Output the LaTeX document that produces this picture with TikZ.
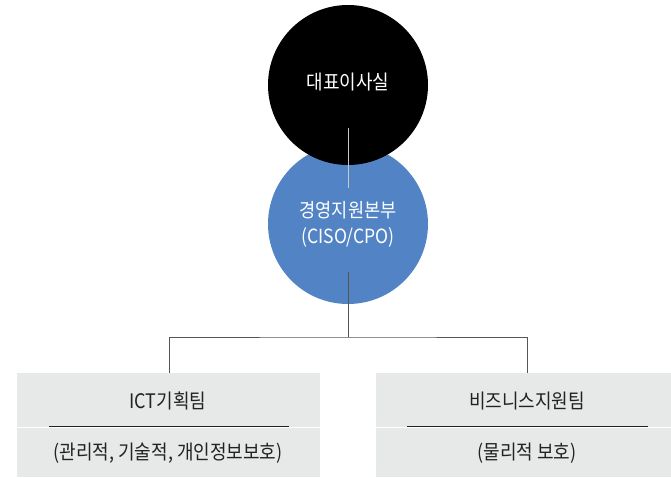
\documentclass[tikz,border=0pt]{standalone}
\usepackage{fontspec}
\setmainfont{Noto Sans CJK KR}[FakeStretch=0.9]
\usetikzlibrary{calc}
\definecolor{ceoblack}{HTML}{000000}
\definecolor{cisoblue}{HTML}{5284C5}
\definecolor{boxgray}{HTML}{E6E9E8}
\definecolor{linkgray}{HTML}{555555}
\definecolor{innergray}{HTML}{C8C8C8}
\definecolor{txtdark}{HTML}{222222}
\tikzset{
  circ/.style={circle, minimum size=160pt, inner sep=0pt, text=white, align=center, font=\fontsize{19.5}{26}\selectfont},
  teambox/.style={rectangle, fill=boxgray, inner sep=0pt, anchor=north west},
  teamtitle/.style={text=txtdark, font=\fontsize{20}{22}\selectfont, inner sep=0pt},
  teamsub/.style={text=txtdark, font=\fontsize{20}{22}\selectfont, inner sep=0pt},
  link/.style={draw=linkgray, line width=1pt},
  sepline/.style={draw=txtdark, line width=0.9pt},
}
\begin{document}
\begin{tikzpicture}[x=1pt,y=-1pt]
\useasboundingbox (0,0) rectangle (671,477);
% circles
\node[circ, fill=cisoblue] (ciso) at (348,224) {경영지원본부\\(CISO/CPO)};
\node[circ, fill=ceoblack] (ceo) at (348,85) {};
\node[text=white, font=\fontsize{20}{22}\selectfont, inner sep=0pt] (ceotext) at (348,82) {대표이사실};
\coordinate (ceoin) at ($(ceo.center)+(0,43)$);
\coordinate (cisoin) at ($(ciso.center)+(0,-36)$);
\draw[draw=innergray, line width=1pt] (ceoin) -- (cisoin);
% boxes
\node[teambox, minimum width=303pt, minimum height=104pt] (ict) at (17,373) {};
\node[teambox, minimum width=295pt, minimum height=104pt] (biz) at (376,373) {};
\draw[white, line width=1pt] (ict.west |- 0,427.5) -- (ict.east |- 0,427.5);
\draw[white, line width=1pt] (biz.west |- 0,427.5) -- (biz.east |- 0,427.5);
\draw[sepline] (49,426) -- (289,426);
\draw[sepline] (407,426) -- (648,426);
\node[teamtitle] (ictt) at (168,401) {ICT기획팀};
\node[teamsub] (icts) at (168,453) {(관리적, 기술적, 개인정보보호)};
\node[teamtitle] (bizt) at (527,401) {비즈니스지원팀};
\node[teamsub] (bizs) at (527,453) {(물리적 보호)};
% connectors
\coordinate (cisoout) at ($(ciso.center)+(0,48)$);
\coordinate (junc) at (348,337);
\coordinate (ictin) at (169,373);
\coordinate (bizin) at (527,373);
\draw[link] (cisoout) -- (junc);
\draw[link] (ictin) |- (junc) -| (bizin);
\end{tikzpicture}
\end{document}
